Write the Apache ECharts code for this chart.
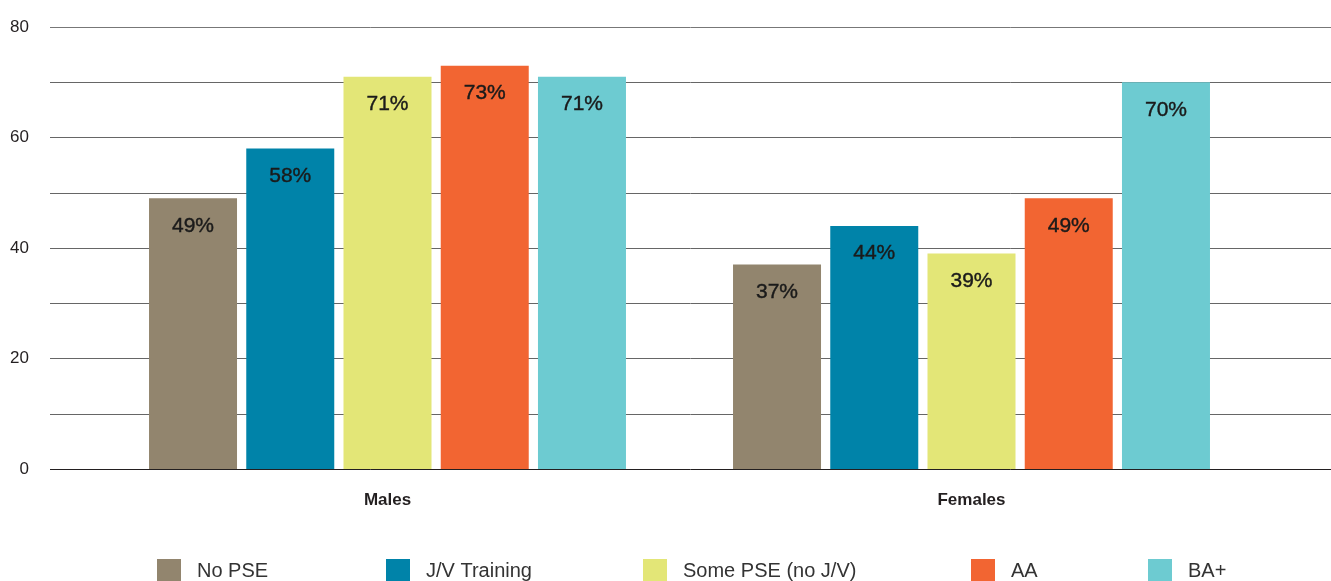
<!DOCTYPE html>
<html><head><meta charset="utf-8">
<script src="https://cdn.jsdelivr.net/npm/echarts@6/dist/echarts.min.js"></script>
<style>html,body{margin:0;padding:0;background:#fff}#c{width:1331px;height:581px}</style>
</head><body><div id="c"></div>
<script>
const categories = ['Males', 'Females'];
const seriesNames = ['No PSE', 'J/V Training', 'Some PSE (no J/V)', 'AA', 'BA+'];
const noPSE = [49, 37];
const jvTraining = [58, 44];
const somePSE = [71, 39];
const aa = [73, 49];
const baPlus = [71, 70];
const yTickLabels = [0, 20, 40, 60, 80];

const seriesValues = [noPSE, jvTraining, somePSE, aa, baPlus];
const colors = ['#92856e', '#0083a9', '#e3e677', '#f26532', '#6dcbd1'];
const legendLefts = [157, 386, 643, 971, 1148];
const font = "'Liberation Sans', Arial, sans-serif";

const chart = echarts.init(document.getElementById('c'));
chart.setOption({
  animation: false,
  grid: [
    {left: 50, right: 0, top: 27, height: 442},
    {left: 95.5, width: 1168, top: 27, height: 442}
  ],
  xAxis: [
    {gridIndex: 0, type: 'value', show: false, min: 0, max: 1},
    {gridIndex: 1, type: 'category', data: categories,
     axisLine: {show: false}, axisTick: {show: false},
     axisLabel: {margin: 23, fontFamily: font,
       fontWeight: 'bold', fontSize: 17, color: '#231f20'}}
  ],
  yAxis: [
    {gridIndex: 0, type: 'value', min: 0, max: 80, interval: 10,
     axisLine: {show: false}, axisTick: {show: false},
     axisLabel: {margin: 21, fontFamily: font, fontSize: 17, color: '#231f20',
       formatter: v => yTickLabels.includes(v) ? String(v) : ''},
     splitLine: {show: true, lineStyle: {width: 1,
       color: ['#231f20', '#666', '#666', '#666', '#666', '#666', '#666', '#666', '#777']}}},
    {gridIndex: 1, type: 'value', min: 0, max: 80, show: false, splitLine: {show: false}}
  ],
  legend: seriesNames.map((n, i) => ({
    data: [n], left: legendLefts[i], top: 559, padding: 0,
    itemWidth: 24, itemHeight: 24, icon: 'rect',
    textStyle: {fontFamily: font, fontSize: 20, color: '#333', padding: [0, 0, 0, 11]}
  })),
  series: seriesNames.map((n, i) => ({
    name: n, type: 'bar', xAxisIndex: 1, yAxisIndex: 1,
    data: seriesValues[i], barWidth: 88, barGap: '10.5%',
    itemStyle: {color: colors[i]},
    label: {show: true, position: 'insideTop', distance: 17,
      formatter: '{c}%', fontFamily: font, fontSize: 21, color: '#1a1a1a',
      textBorderColor: '#1a1a1a', textBorderWidth: 0.4}
  }))
});
</script></body></html>
